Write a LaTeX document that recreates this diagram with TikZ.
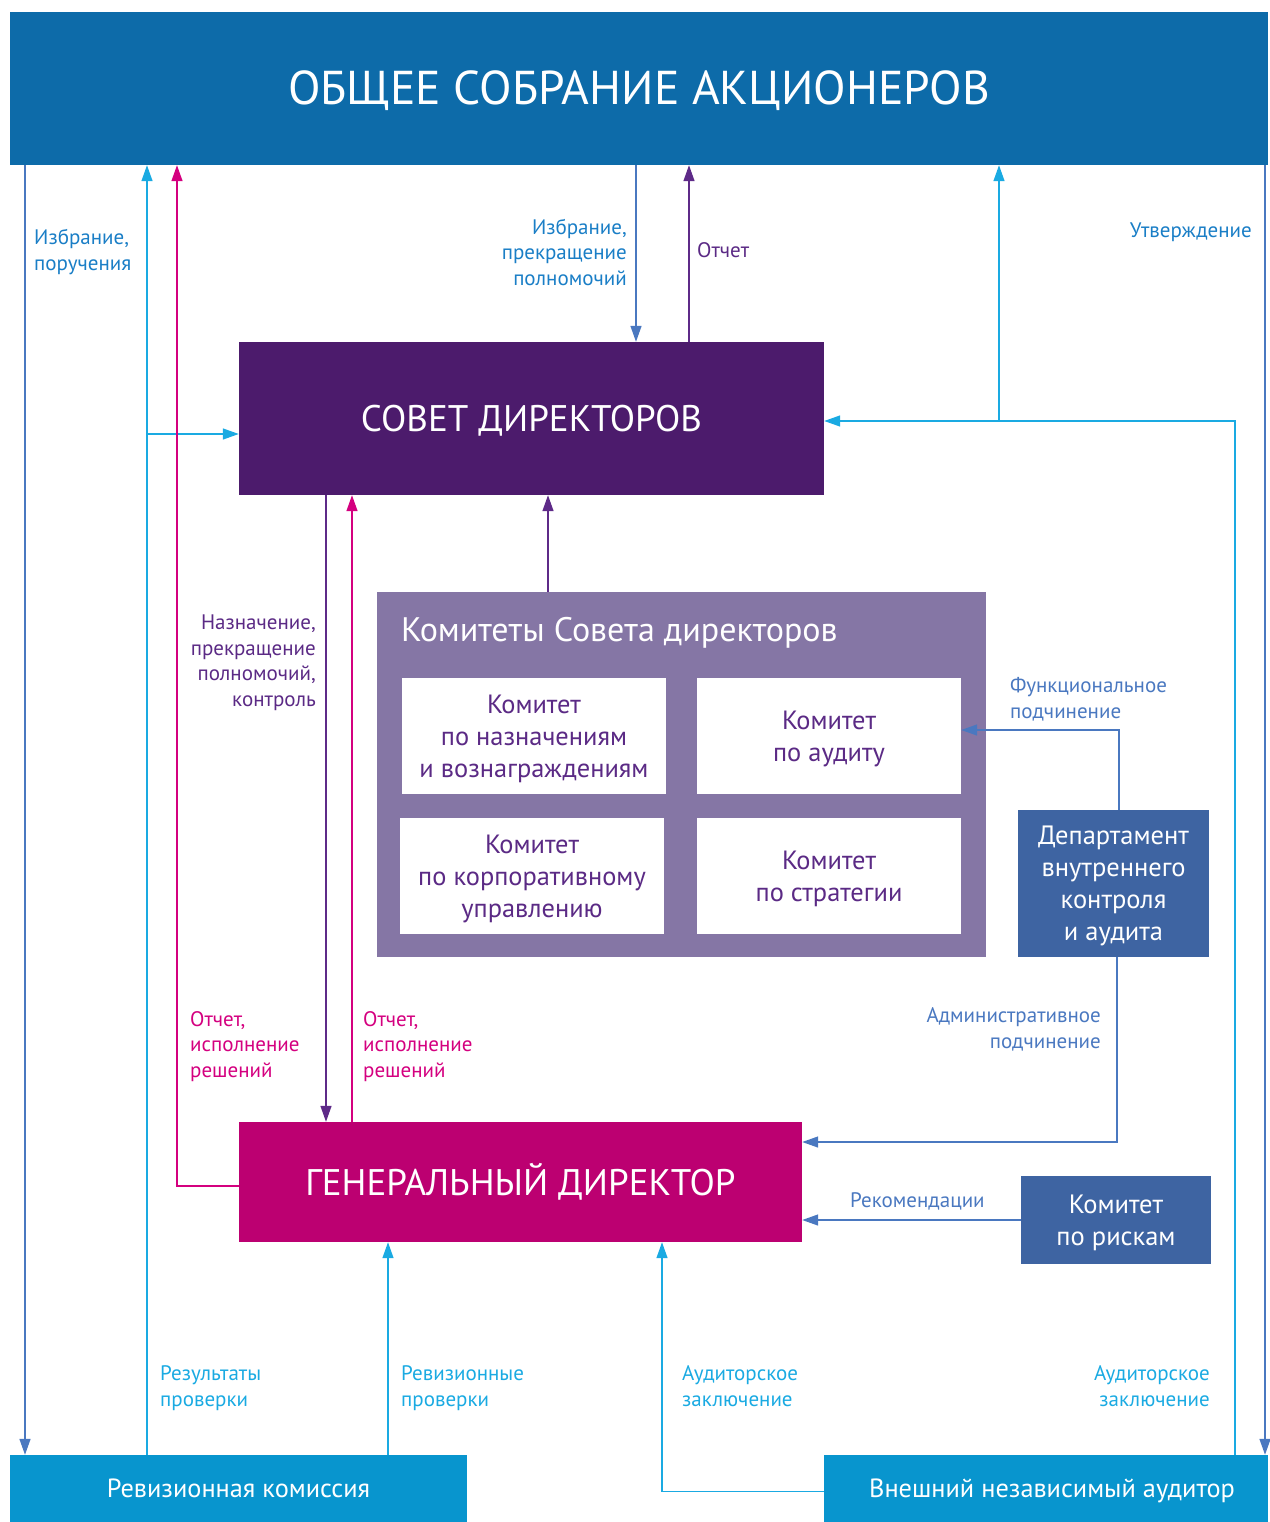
\documentclass[tikz,border=0pt]{standalone}
\usepackage{fontspec}
\setmainfont{PT Sans}
\usetikzlibrary{arrows.meta}
\definecolor{osoblue}{HTML}{0D6BA9}
\definecolor{sdpurple}{HTML}{4C1B6C}
\definecolor{kompurple}{HTML}{8576A5}
\definecolor{gdmagenta}{HTML}{BC0071}
\definecolor{depblue}{HTML}{3E64A2}
\definecolor{botblue}{HTML}{0895CE}
\definecolor{lnblue}{HTML}{4A78C0}
\definecolor{lncyan}{HTML}{1AAAE2}
\definecolor{lnmag}{HTML}{D4007F}
\definecolor{lnpur}{HTML}{5E2A88}
\definecolor{txblue}{HTML}{1A7EC6}
\definecolor{txpur}{HTML}{5B2A85}
\tikzset{
  box/.style={inner sep=0pt, text=white, align=center},
  wbox/.style={fill=white, inner sep=0pt, text=txpur, align=center, text depth=-4pt,
    minimum width=264pt, minimum height=116pt, font=\fontsize{26.4}{32}\selectfont},
  ln/.style={line width=1.4pt, -{Triangle[length=16pt,width=11pt]}},
  lbl/.style={inner sep=0pt, font=\fontsize{21}{25.4}\selectfont},
}
\begin{document}
\begin{tikzpicture}[x=1pt,y=-1pt]
\useasboundingbox (0,0) rectangle (1269,1522);

\node[box, fill=osoblue, minimum width=1258pt, minimum height=153pt, text height=33pt, text depth=-3pt, font=\fontsize{47.5}{50}\selectfont] (oso) at (639,88.5) {ОБЩЕЕ СОБРАНИЕ АКЦИОНЕРОВ};
\node[box, fill=sdpurple, minimum width=585pt, minimum height=153pt, text height=26pt, text depth=-5pt, font=\fontsize{37}{40}\selectfont] (sd) at (531.5,418.5) {СОВЕТ ДИРЕКТОРОВ};
\node[box, fill=kompurple, minimum width=609pt, minimum height=365pt] (kom) at (681.5,774.5) {};
\node[inner sep=0pt, anchor=base west, text=white, font=\fontsize{34}{36}\selectfont] (komt) at (401,641) {Комитеты Совета директоров};
\node[wbox, text height=82.5pt] (kna) at (534,736) {Комитет\\по назначениям\\и вознаграждениям};
\node[wbox, text height=50.5pt] (kau) at (829,736) {Комитет\\по аудиту};
\node[wbox, text height=82.5pt] (kkor) at (532,876) {Комитет\\по корпоративному\\управлению};
\node[wbox, text height=50.5pt] (kstr) at (829,876) {Комитет\\по стратегии};
\node[box, fill=depblue, minimum width=191pt, minimum height=147pt, text height=114.5pt, text depth=-5pt, font=\fontsize{26.5}{32}\selectfont] (dep) at (1113.5,883.5) {Департамент\\внутреннего\\контроля\\и аудита};
\node[box, fill=gdmagenta, minimum width=563pt, minimum height=120pt, text height=26pt, text depth=-4pt, font=\fontsize{37}{40}\selectfont] (gd) at (520.5,1182) {ГЕНЕРАЛЬНЫЙ ДИРЕКТОР};
\node[box, fill=depblue, minimum width=190pt, minimum height=88pt, text height=50.5pt, text depth=-4pt, font=\fontsize{26.5}{32}\selectfont] (risk) at (1116,1220) {Комитет\\по рискам};
\node[box, fill=botblue, minimum width=457pt, minimum height=67pt, text height=18.5pt, text depth=-9pt, font=\fontsize{26.3}{30}\selectfont] (rev) at (238.5,1488.5) {Ревизионная комиссия};
\node[box, fill=botblue, minimum width=444pt, minimum height=67pt, text height=18.5pt, text depth=-9pt, font=\fontsize{26.3}{30}\selectfont] (aud) at (1046,1488.5) {\hspace{12pt}Внешний независимый аудитор};

% connectors
\draw[ln, lnblue] (25,0 |- oso.south) -- (25,0 |- rev.north);
\draw[ln, lncyan] (147,0 |- rev.north) -- (147,0 |- oso.south);
\draw[ln, lncyan] (147,434) -- (147,434 -| sd.west);
\draw[ln, lnmag] ([yshift=-4pt]gd.west) -| (177,0 |- oso.south);
\draw[ln, lnblue] (636,0 |- oso.south) -- (636,0 |- sd.north);
\draw[ln, lnpur] (689,0 |- sd.north) -- (689,0 |- oso.south);
\draw[ln, lncyan] (1235,0 |- aud.north) |- ([yshift=-2.5pt]sd.east);
\draw[ln, lncyan] (999,421) -- (999,0 |- oso.south);
\draw[ln, lnblue] (1265,0 |- oso.south) -- (1265,0 |- aud.north);
\draw[ln, lnpur] (326,0 |- sd.south) -- (326,0 |- gd.north);
\draw[ln, lnmag] (352,0 |- gd.north) -- (352,0 |- sd.south);
\draw[ln, lnpur] (548,0 |- kom.north) -- (548,0 |- sd.south);
\draw[ln, lnblue] (1119,0 |- dep.north) |- ([yshift=6pt]kau.east);
\draw[ln, lnblue] (1117,0 |- dep.south) |- ([yshift=40pt]gd.east);
\draw[ln, lnblue] (risk.west) -- (risk.west -| gd.east);
\draw[ln, lncyan] (388,0 |- rev.north) -- (388,0 |- gd.south);
\draw[ln, lncyan] ([yshift=-3pt]aud.west) -| (662,0 |- gd.south);

% labels
\node[lbl, text=txblue, anchor=base west, align=left] (l1) at (34,270) {Избрание,\\поручения};
\node[lbl, text=txblue, anchor=base east, align=right] (l2) at (627,285) {Избрание,\\прекращение\\полномочий};
\node[lbl, text=txpur, anchor=base west] (l3) at (697,258) {Отчет};
\node[lbl, text=txblue, anchor=base east] (l4) at (1252,238) {Утверждение};
\node[lbl, text=txpur, anchor=base east, align=right] (l5) at (316,706) {Назначение,\\прекращение\\полномочий,\\контроль};
\node[lbl, text=lnmag, anchor=base west, align=left] (l6) at (190,1077) {Отчет,\\исполнение\\решений};
\node[lbl, text=lnmag, anchor=base west, align=left] (l7) at (363,1077) {Отчет,\\исполнение\\решений};
\node[lbl, text=lnblue, anchor=base west, align=left] (l8) at (1010,718) {Функциональное\\подчинение};
\node[lbl, text=lnblue, anchor=base east, align=right] (l9) at (1101,1048) {Административное\\подчинение};
\node[lbl, text=lnblue, anchor=base west] (l10) at (850,1207) {Рекомендации};
\node[lbl, text=lncyan, anchor=base west, align=left] (l11) at (160,1406) {Результаты\\проверки};
\node[lbl, text=lncyan, anchor=base west, align=left] (l12) at (401,1406) {Ревизионные\\проверки};
\node[lbl, text=lncyan, anchor=base west, align=left] (l13) at (682,1406) {Аудиторское\\заключение};
\node[lbl, text=lncyan, anchor=base east, align=right] (l14) at (1210,1406) {Аудиторское\\заключение};
\end{tikzpicture}
\end{document}
